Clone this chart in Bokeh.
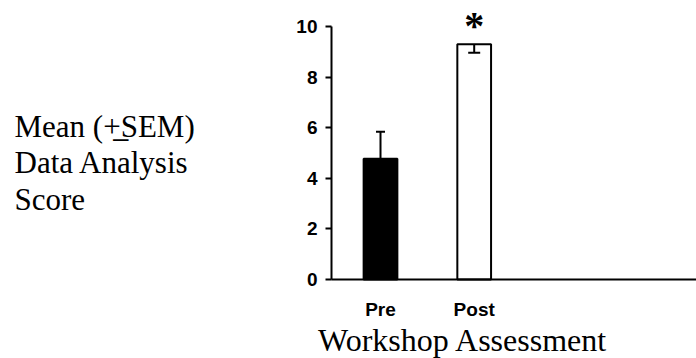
from bokeh.plotting import figure
from bokeh.models import Range1d, FixedTicker, Whisker, TeeHead, ColumnDataSource, Label
from bokeh.embed import file_html
from bokeh.resources import INLINE

# ---- data ----
groups = ["Pre", "Post"]
group_pos = [1, 2]
means = [4.77, 9.30]
sems = [1.07, 0.34]
fills = ["black", "white"]
y_ticks = [0, 2, 4, 6, 8, 10]
x_title = "Workshop Assessment"
y_title = "Mean (+\u0332SEM)\nData Analysis\nScore"
sig_mark = "*"

# ---- layout (pixel <-> data mapping) ----
W, H = 696, 358
ppx = 93.7          # px per x unit
ppy = 25.3          # px per y unit
x0_px, y0_px = 380, 279   # pixel position of x=1, y=0


def dx(px):
    return 1 + (px - x0_px) / ppx


def dy(py):
    return (y0_px - py) / ppy


axis_x = dx(331)
p = figure(width=W, height=H, x_range=Range1d(dx(0), dx(W)), y_range=Range1d(dy(H), dy(0)),
           output_backend="svg", toolbar_location=None,
           min_border_left=0, min_border_right=0, min_border_top=0, min_border_bottom=0)
p.outline_line_color = None
p.grid.visible = False
p.background_fill_color = "white"

src = ColumnDataSource(dict(x=group_pos, top=means, fill=fills))
p.vbar(x="x", top="top", width=0.36, bottom=0, source=src, fill_color="fill",
       line_color="black", line_width=2)

# error bars: Pre shows upper half, Post shows lower half
pre_src = ColumnDataSource(dict(base=[group_pos[0]], lower=[means[0]], upper=[means[0] + sems[0]]))
post_src = ColumnDataSource(dict(base=[group_pos[1]], lower=[means[1] - sems[1]], upper=[means[1]]))
w1 = Whisker(base="base", lower="lower", upper="upper", source=pre_src, dimension="height",
             line_width=2, line_color="black", lower_head=None,
             upper_head=TeeHead(size=9, line_width=2, line_color="black"), level="annotation")
w2 = Whisker(base="base", lower="lower", upper="upper", source=post_src, dimension="height",
             line_width=2, line_color="black", upper_head=None,
             lower_head=TeeHead(size=12, line_width=2, line_color="black"), level="annotation")
p.add_layout(w1)
p.add_layout(w2)

# axes (fixed inside the canvas, limited by bounds)
p.yaxis.fixed_location = axis_x
p.yaxis.bounds = (y_ticks[0], y_ticks[-1])
p.yaxis.ticker = FixedTicker(ticks=y_ticks)
p.yaxis.minor_tick_line_color = None
p.yaxis.major_tick_in = 0
p.yaxis.major_tick_out = 6
p.yaxis.major_tick_line_width = 2
p.yaxis.axis_line_width = 2
p.yaxis.major_label_text_font = "Liberation Sans"
p.yaxis.major_label_text_font_style = "bold"
p.yaxis.major_label_text_font_size = "19px"
p.yaxis.major_label_text_color = "black"
p.yaxis.major_label_standoff = 8

p.xaxis.fixed_location = 0
p.xaxis.bounds = (axis_x, dx(W))
p.xaxis.ticker = FixedTicker(ticks=group_pos)
p.xaxis.major_label_overrides = {pos: g for pos, g in zip(group_pos, groups)}
p.xaxis.minor_tick_line_color = None
p.xaxis.major_tick_in = 0
p.xaxis.major_tick_out = 0
p.xaxis.axis_line_width = 2
p.xaxis.major_label_text_font = "Liberation Sans"
p.xaxis.major_label_text_font_style = "bold"
p.xaxis.major_label_text_font_size = "19px"
p.xaxis.major_label_text_color = "black"
p.xaxis.major_label_standoff = 19

# titles
p.add_layout(Label(x=dx(462.5), y=dy(339.5), text=x_title, text_font="Liberation Serif",
                   text_font_size="32px", text_align="center", text_baseline="middle",
                   text_color="black"))
p.add_layout(Label(x=dx(14), y=dy(108), text=y_title, text_font="Liberation Serif",
                   text_font_size="31px", text_align="left", text_baseline="top",
                   text_line_height=1.05, text_color="black"))
p.add_layout(Label(x=group_pos[1], y=means[1], y_offset=19, text=sig_mark,
                   text_font="Liberation Serif", text_font_style="bold", text_font_size="40px",
                   text_align="center", text_baseline="middle", text_color="black"))

open("out.html", "w").write(file_html(p, INLINE))
